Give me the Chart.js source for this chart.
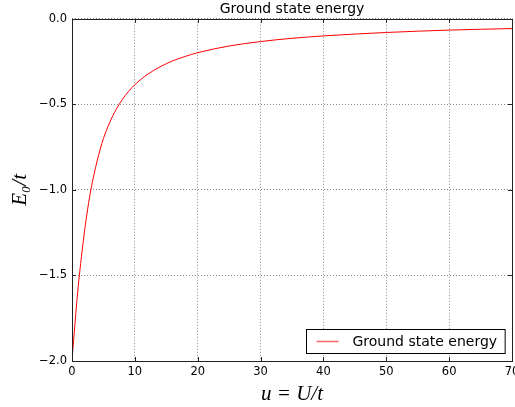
<!DOCTYPE html>
<html lang="en">
<head>
    <meta charset="UTF-8">
    <title>Ground state energy</title>
    <script src="https://cdn.jsdelivr.net/npm/chart.js@4.4.1/dist/chart.umd.min.js"></script>
    <style>
        html, body { margin: 0; padding: 0; background: #ffffff; }
        #wrap { width: 515px; height: 407px; }
    </style>
</head>
<body>
    <div id="wrap"><canvas id="energyChart" width="515" height="407"></canvas></div>

    <script>
        // Values
        const uValues = [0, 0.25, 0.5, 0.75, 1, 1.5, 2, 2.5, 3, 3.5, 4, 5, 6, 7, 8, 9, 10,
                         12, 14, 16, 18, 20, 25, 30, 35, 40, 50, 60, 70];
        const energyValues = [-2.0, -1.88, -1.77, -1.66, -1.56, -1.39, -1.24, -1.11, -1.0, -0.91, -0.83,
                              -0.70, -0.606, -0.531, -0.472, -0.424, -0.385,
                              -0.325, -0.281, -0.246, -0.220, -0.198, -0.159, -0.133, -0.114, -0.100,
                              -0.080, -0.066, -0.057];
        const xTicks = [0, 10, 20, 30, 40, 50, 60, 70];
        const yTicks = [-2.0, -1.5, -1.0, -0.5, 0.0];

        const seriesLabel = 'Ground state energy';
        const points = uValues.map((u, i) => ({ x: u, y: energyValues[i] }));
        const fmt = v => v.toFixed(1).replace('-', '\u2212');

        // frame, inward ticks and in-plot legend (matplotlib classic look)
        const framePlugin = {
            id: 'frame',
            afterDraw(chart) {
                const { ctx, chartArea: a, scales } = chart;
                ctx.save();
                ctx.strokeStyle = '#222';
                ctx.lineWidth = 1;
                ctx.beginPath();
                xTicks.forEach(t => {
                    const px = Math.round(scales.x.getPixelForValue(t)) + 0.5;
                    ctx.moveTo(px, a.bottom); ctx.lineTo(px, a.bottom - 4);
                    ctx.moveTo(px, a.top); ctx.lineTo(px, a.top + 4);
                });
                yTicks.forEach(t => {
                    const py = Math.round(scales.y.getPixelForValue(t)) + 0.5;
                    ctx.moveTo(a.left, py); ctx.lineTo(a.left + 4, py);
                    ctx.moveTo(a.right, py); ctx.lineTo(a.right - 4, py);
                });
                ctx.stroke();
                ctx.strokeRect(Math.round(a.left) + 0.5, Math.round(a.top) + 0.5,
                               Math.round(a.right - a.left), Math.round(a.bottom - a.top));

                // legend
                const ds = chart.data.datasets[0];
                ctx.font = '14px "DejaVu Sans"';
                const tw = ctx.measureText(ds.label).width;
                const bw = tw + 54, bh = 24;
                const bx = Math.round(a.right - 7 - bw) + 0.5, by = Math.round(a.bottom - 8 - bh) + 0.5;
                ctx.fillStyle = '#fff';
                ctx.fillRect(bx, by, bw, bh);
                ctx.strokeStyle = '#000';
                ctx.strokeRect(bx, by, bw, bh);
                ctx.strokeStyle = 'rgba(255, 0, 0, 0.6)';
                ctx.lineWidth = 1.5;
                ctx.beginPath();
                ctx.moveTo(bx + 10, by + 12); ctx.lineTo(bx + 32, by + 12);
                ctx.stroke();
                ctx.fillStyle = '#000';
                ctx.textBaseline = 'middle';
                ctx.fillText(ds.label, bx + 46, by + 12.5);
                ctx.restore();
            }
        };

        new Chart(document.getElementById('energyChart'), {
            type: 'scatter',
            data: {
                datasets: [{
                    label: seriesLabel,
                    data: points,
                    showLine: true,
                    borderColor: '#ff0000',
                    borderWidth: 1,
                    pointRadius: 0,
                    cubicInterpolationMode: 'monotone'
                }]
            },
            options: {
                responsive: false,
                devicePixelRatio: 1,
                animation: false,
                layout: { padding: { left: 0, right: 3, top: 0, bottom: 0 } },
                plugins: {
                    legend: { display: false },
                    tooltip: { enabled: false },
                    title: {
                        display: true,
                        text: 'Ground state energy',
                        fullSize: false,
                        color: '#000',
                        font: { family: 'DejaVu Sans', size: 14, weight: 'normal' },
                        padding: { top: 1, bottom: 1 }
                    }
                },
                scales: {
                    x: {
                        type: 'linear',
                        min: 0,
                        max: 70,
                        afterBuildTicks: s => { s.ticks = xTicks.map(v => ({ value: v })); },
                        afterFit: s => { s.height = 46; s.paddingLeft = 0; s.paddingRight = 0; },
                        grid: { color: '#888', borderDash: [1, 2], drawTicks: false },
                        border: { display: false, dash: [1, 2] },
                        ticks: {
                            color: '#000',
                            padding: 4,
                            maxRotation: 0,
                            font: { family: 'DejaVu Sans', size: 11.5 },
                            callback: v => String(v)
                        },
                        title: {
                            display: true,
                            text: 'u = U/t',
                            color: '#000',
                            font: { family: 'Liberation Serif', size: 21, style: 'italic' },
                            padding: { top: 3, bottom: 0 }
                        }
                    },
                    y: {
                        type: 'linear',
                        min: -2,
                        max: 0,
                        afterBuildTicks: s => { s.ticks = yTicks.map(v => ({ value: v })); },
                        afterFit: s => { s.width = 72; s.paddingTop = 0; s.paddingBottom = 0; },
                        grid: { color: '#888', borderDash: [1, 2], drawTicks: false },
                        border: { display: false, dash: [1, 2] },
                        ticks: {
                            color: '#000',
                            padding: 5,
                            font: { family: 'DejaVu Sans', size: 11.5 },
                            callback: v => fmt(v)
                        },
                        title: {
                            display: true,
                            text: 'E\u2080/t',
                            color: '#000',
                            font: { family: 'Liberation Serif', size: 21, style: 'italic' },
                            padding: { top: 8, bottom: 0 }
                        }
                    }
                }
            },
            plugins: [framePlugin]
        });
    </script>
</body>
</html>
